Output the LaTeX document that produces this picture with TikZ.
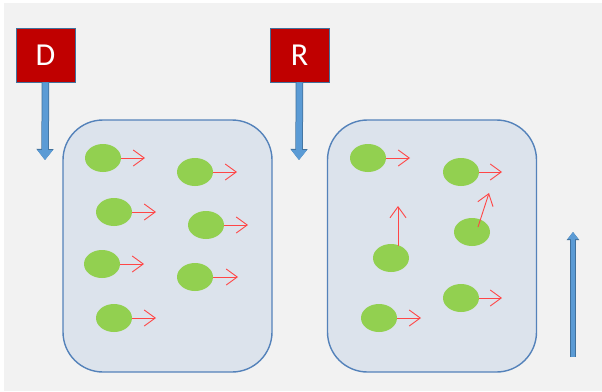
\documentclass[tikz,border=0pt]{standalone}
\usepackage{fontspec}
\setmainfont{Carlito}
\usetikzlibrary{arrows.meta,shapes.geometric}
\definecolor{bg}{RGB}{242,242,242}
\definecolor{darkred}{RGB}{192,0,0}
\definecolor{boxblue}{RGB}{65,113,156}
\definecolor{shaft}{RGB}{91,155,213}
\definecolor{panel}{RGB}{220,227,236}
\definecolor{panelborder}{RGB}{84,130,186}
\definecolor{ball}{RGB}{146,208,80}
\definecolor{redarr}{RGB}{255,70,70}
\tikzset{
  label box/.style={draw=boxblue, line width=0.8pt, fill=darkred, text=white,
    minimum width=59pt, minimum height=54pt, inner sep=0pt, font=\fontsize{32}{32}\selectfont},
  panelbox/.style={draw=panelborder, line width=1.4pt, fill=panel, rounded corners=40pt,
    minimum width=209pt, minimum height=252pt, inner sep=0pt},
  ballnode/.style={ellipse, fill=ball, minimum width=36pt, minimum height=28pt, inner sep=0pt},
  velo/.style={draw=redarr, line width=0.9pt, -{Straight Barb[length=11pt,width=16pt,line width=0.9pt]}},
  bigarrow/.style={draw=shaft, line width=6pt, -{Triangle[length=10pt,width=15pt]},
    preaction={draw=boxblue, line width=7.5pt, -{Triangle[length=11pt,width=16.5pt]}}},
  thinarrow/.style={draw=shaft, line width=4.5pt, -{Triangle[length=7pt,width=10pt]},
    preaction={draw=boxblue, line width=6pt, -{Triangle[length=8pt,width=12pt]}}},
}
\begin{document}
\begin{tikzpicture}[x=1pt,y=-1pt]
\useasboundingbox (0,0) rectangle (602,391);
\fill[white] (0,0) rectangle (602,391);
\fill[bg] (4,3) rectangle (602,391);

% panels
\node[panelbox] (P1) at (167.5,246) {};
\node[panelbox] (P2) at (432,246) {};

% label boxes
\node[label box] (D) at (45.5,55) {D};
\node[label box] (R) at (299.5,55) {R};
\coordinate (Dt) at (45,160);
\coordinate (Rt) at (299,160);
\draw[bigarrow] (D.south) -- (Dt);
\draw[bigarrow] (R.south) -- (Rt);

% vertical arrow at right
\coordinate (Vb) at (573,357);
\coordinate (Vt) at (573,232);
\draw[thinarrow] (Vb) -- (Vt);

% balls, left panel
\node[ballnode] (a1) at (103,158) {};
\node[ballnode] (a2) at (195,172) {};
\node[ballnode] (a3) at (114,212) {};
\node[ballnode] (a4) at (206,225) {};
\node[ballnode] (a5) at (102,264) {};
\node[ballnode] (a6) at (195,277) {};
\node[ballnode] (a7) at (114,318) {};
\foreach \n/\x/\y in {a1/145/158, a2/237/172, a3/156/212, a4/248/225, a5/144/264, a6/238/277, a7/156/318}{
  \coordinate (\n t) at (\x,\y);
  \draw[velo] (\n.east) -- (\n t);
}

% balls, right panel
\node[ballnode] (b1) at (368,158) {};
\node[ballnode] (b2) at (461,172) {};
\node[ballnode] (b3) at (391,258) {};
\node[ballnode] (b4) at (472,232) {};
\node[ballnode] (b5) at (379,318) {};
\node[ballnode] (b6) at (461,298) {};
\foreach \n/\x/\y in {b1/410/158, b2/502/172, b5/421/318, b6/502/298}{
  \coordinate (\n t) at (\x,\y);
  \draw[velo] (\n.east) -- (\n t);
}
\coordinate (b3s) at (398,246);
\coordinate (b3t) at (398,206);
\draw[velo] (b3s) -- (b3t);
\coordinate (b4s) at (478,227);
\coordinate (b4t) at (489,193);
\draw[velo] (b4s) -- (b4t);
\end{tikzpicture}
\end{document}
